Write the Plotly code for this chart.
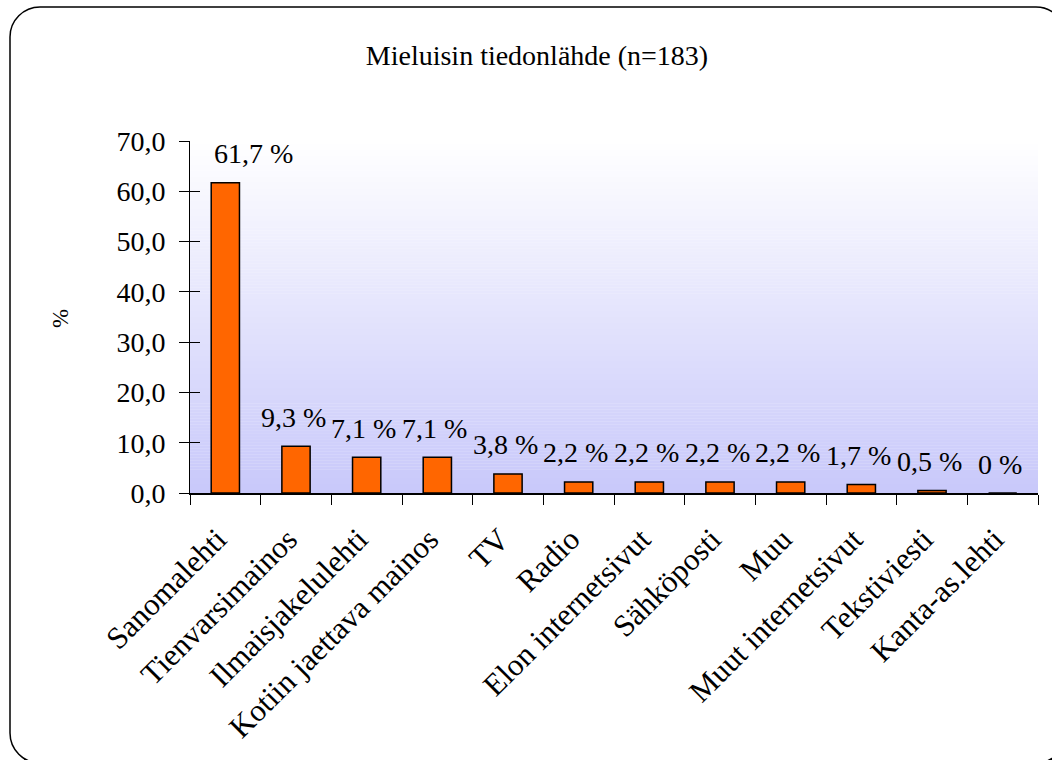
import plotly.graph_objects as go

# Survey: preferred information source (share of respondents, %)
categories = [
    "Sanomalehti", "Tienvarsimainos", "Ilmaisjakelulehti", "Kotiin jaettava mainos",
    "TV", "Radio", "Elon internetsivut", "Sähköposti", "Muu",
    "Muut internetsivut", "Tekstiviesti", "Kanta-as.lehti",
]
values = [61.7, 9.3, 7.1, 7.1, 3.8, 2.2, 2.2, 2.2, 2.2, 1.7, 0.5, 0.0]
y_ticks = [0, 10, 20, 30, 40, 50, 60, 70]

FONT = "Liberation Serif"
W, H = 1052, 760
L, R, T, B = 190, 14, 141, 267
PW, PH = W - L - R, H - T - B


def fi(v, zero_plain=False):
    if zero_plain and v == 0:
        return "0"
    return f"{v:.1f}".replace(".", ",")


def px(x, y):
    """Figure pixel position -> paper coordinates."""
    return (x - L) / PW, (H - B - y) / PH


def rounded_rect(x0, y0, x1, y1, r):
    k = 0.5523 * r
    pts = [
        ("M", [(x0 + r, y0)]),
        ("L", [(x1 - r, y0)]),
        ("C", [(x1 - r + k, y0), (x1, y0 + r - k), (x1, y0 + r)]),
        ("L", [(x1, y1 - r)]),
        ("C", [(x1, y1 - r + k), (x1 - r + k, y1), (x1 - r, y1)]),
        ("L", [(x0 + r, y1)]),
        ("C", [(x0 + r - k, y1), (x0, y1 - r + k), (x0, y1 - r)]),
        ("L", [(x0, y0 + r)]),
        ("C", [(x0, y0 + r - k), (x0 + r - k, y0), (x0 + r, y0)]),
    ]
    out = []
    for cmd, ps in pts:
        coords = " ".join("{:.5f},{:.5f}".format(*px(a, b)) for a, b in ps)
        out.append(f"{cmd}{coords}")
    return " ".join(out) + " Z"


shapes = [
    # drop shadow and rounded white frame
    dict(type="path", xref="paper", yref="paper", layer="below",
         path=rounded_rect(15, 12, 1071, 768, 30),
         fillcolor="#000", line=dict(width=0)),
    dict(type="path", xref="paper", yref="paper", layer="below",
         path=rounded_rect(10, 7, 1066, 763, 30),
         fillcolor="#fff", line=dict(color="#000", width=1.5)),
]

# vertical white -> lavender gradient behind the bars
top_rgb, bot_rgb = (255, 255, 255), (200, 200, 250)
n_bands = 118
for i in range(n_bands):
    t = (i + 0.5) / n_bands
    c = tuple(round(a + (b - a) * t) for a, b in zip(top_rgb, bot_rgb))
    shapes.append(dict(
        type="rect", xref="paper", yref="paper", layer="below",
        x0=0, x1=1, y0=1 - (i + 1) / n_bands - 0.001, y1=1 - i / n_bands,
        fillcolor=f"rgb{c}", line=dict(width=0),
    ))

fig = go.Figure()
fig.add_trace(go.Bar(
    x=categories, y=values, width=0.4,
    marker=dict(color="#FF6600", line=dict(color="#000", width=1.5)),
    hoverinfo="skip", showlegend=False,
))
# carrier for the inner half of the y-axis ticks
fig.add_trace(go.Scatter(
    x=[categories[0]], y=[0], yaxis="y2", mode="none",
    hoverinfo="skip", showlegend=False,
))

for i, (c, v) in enumerate(zip(categories, values)):
    fig.add_annotation(
        x=c, y=v, text=f"{fi(v, True)} %", showarrow=False,
        xanchor="center", yanchor="middle",
        xshift=28 if i == 0 else -3, yshift=29,
        font=dict(family=FONT, size=28, color="#000"),
    )

ax, ay = px(60, 319)
fig.add_annotation(
    x=ax, y=ay, xref="paper", yref="paper",
    text="%", textangle=-90, showarrow=False,
    xanchor="center", yanchor="middle",
    font=dict(family=FONT, size=23, color="#000"),
)

fig.update_layout(
    width=W, height=H,
    margin=dict(l=L, r=R, t=T, b=B, autoexpand=False),
    paper_bgcolor="#fff",
    plot_bgcolor="rgba(0,0,0,0)",
    title=dict(
        text="Mieluisin tiedonlähde (n=183)",
        x=537 / W, xref="container", xanchor="center",
        y=1 - 55 / H, yref="container", yanchor="middle",
        font=dict(family=FONT, size=28, color="#000"),
    ),
    xaxis=dict(
        type="category", tickson="boundaries", ticks="outside", ticklen=10,
        tickcolor="#000", tickwidth=1, tickangle=-45,
        ticklabelstandoff=14, ticklabelshift=-8,
        showline=True, linecolor="#000", linewidth=1.5, showgrid=False,
        tickfont=dict(family=FONT, size=31, color="#000"),
    ),
    yaxis=dict(
        range=[0, 70], tickvals=y_ticks, ticktext=[fi(t) for t in y_ticks],
        ticks="outside", ticklen=10, tickcolor="#000", tickwidth=1,
        ticklabelstandoff=8,
        showline=True, linecolor="#000", linewidth=1, showgrid=False,
        zeroline=False,
        tickfont=dict(family=FONT, size=28, color="#000"),
    ),
    yaxis2=dict(
        range=[0, 70], tickvals=y_ticks, overlaying="y", side="left", anchor="x",
        ticks="inside", ticklen=10, tickcolor="#000", tickwidth=1,
        showticklabels=False, showline=False, showgrid=False, zeroline=False,
    ),
    shapes=shapes,
    showlegend=False,
)

fig.write_html("out.html")
